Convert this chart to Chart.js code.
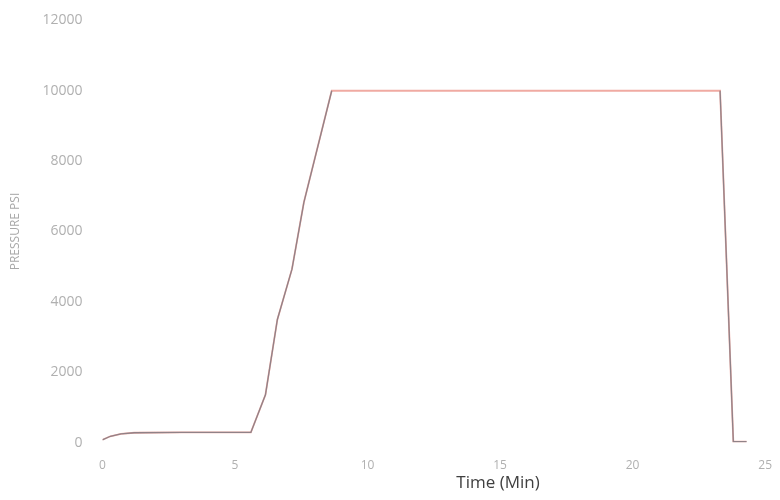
<!DOCTYPE html>
<html>
<head>
<meta charset="utf-8">
<script src="https://cdn.jsdelivr.net/npm/chart.js@4/dist/chart.umd.min.js"></script>
<style>
  html, body { margin: 0; padding: 0; background: #fff; }
  #wrap { width: 780px; height: 500px; }
</style>
</head>
<body>
<div id="wrap"><canvas id="chart"></canvas></div>
<script>
// время (мин) и давление (psi)
const timeMin = [0, 0.3, 0.7, 1.2, 3, 5.6, 6.15, 6.6, 7.15, 7.6, 8.65, 15, 23.3, 23.8, 24.3];
const pressurePsi = [80, 180, 250, 280, 290, 290, 1360, 3500, 4930, 6830, 10000, 10000, 10000, 30, 30];
// серая линия видна на подъёме и сбросе, на полке её не видно
const grayPsi = [80, 180, 250, 280, 290, 290, 1360, 3500, 4930, 6830, 10000, null, 10000, 30, 30];
const xTicks = [0, 5, 10, 15, 20, 25];
const yTicks = [0, 2000, 4000, 6000, 8000, 10000, 12000];

const toPoints = arr => timeMin.map((t, i) => ({ x: t, y: arr[i] }));

// подпись оси X смещена вправо, как в оригинале
const xTitlePlugin = {
    id: 'xTitle',
    afterDraw(chart) {
        const { ctx, chartArea } = chart;
        ctx.save();
        ctx.font = '17px "Open Sans", sans-serif';
        ctx.fillStyle = '#404040';
        ctx.textAlign = 'center';
        ctx.textBaseline = 'middle';
        const x = chartArea.left + (chartArea.right - chartArea.left) * 0.597;
        ctx.fillText('Time (Min)', x, chartArea.bottom + 41);
        ctx.restore();
    }
};

new Chart(document.getElementById('chart').getContext('2d'), {
    type: 'scatter',
    data: {
        datasets: [
            {
                data: toPoints(grayPsi),
                showLine: true,
                spanGaps: false,
                borderColor: 'rgba(120,120,130,0.8)',
                borderWidth: 1.3,
                pointRadius: 0,
                tension: 0
            },
            {
                data: toPoints(pressurePsi),
                showLine: true,
                borderColor: '#f0aaa2',
                borderWidth: 1.8,
                pointRadius: 0,
                tension: 0
            }
        ]
    },
    options: {
        responsive: true,
        maintainAspectRatio: false,
        animation: false,
        layout: { padding: { top: 5, right: 13, bottom: 19, left: 4 } },
        plugins: {
            legend: { display: false },
            tooltip: { enabled: false }
        },
        scales: {
            x: {
                type: 'linear',
                min: 0,
                max: 25,
                afterBuildTicks: axis => { axis.ticks = xTicks.map(v => ({ value: v })); },
                grid: { display: false },
                border: { display: false },
                ticks: {
                    color: '#b0b0b0',
                    font: { size: 12, family: '"Open Sans", sans-serif' },
                    padding: 8,
                    callback: v => String(v)
                }
            },
            y: {
                min: 0,
                max: 12000,
                afterBuildTicks: axis => { axis.ticks = yTicks.map(v => ({ value: v })); },
                grid: { display: false },
                border: { display: false },
                title: {
                    display: true,
                    text: 'PRESSURE PSI',
                    color: '#a8a8a8',
                    font: { size: 12, family: '"Open Sans", sans-serif' },
                    padding: { top: 4, bottom: 8 }
                },
                ticks: {
                    color: '#b0b0b0',
                    font: { size: 14, family: '"Open Sans", sans-serif' },
                    padding: 12,
                    callback: v => String(v)
                }
            }
        }
    },
    plugins: [xTitlePlugin]
});
</script>
</body>
</html>
